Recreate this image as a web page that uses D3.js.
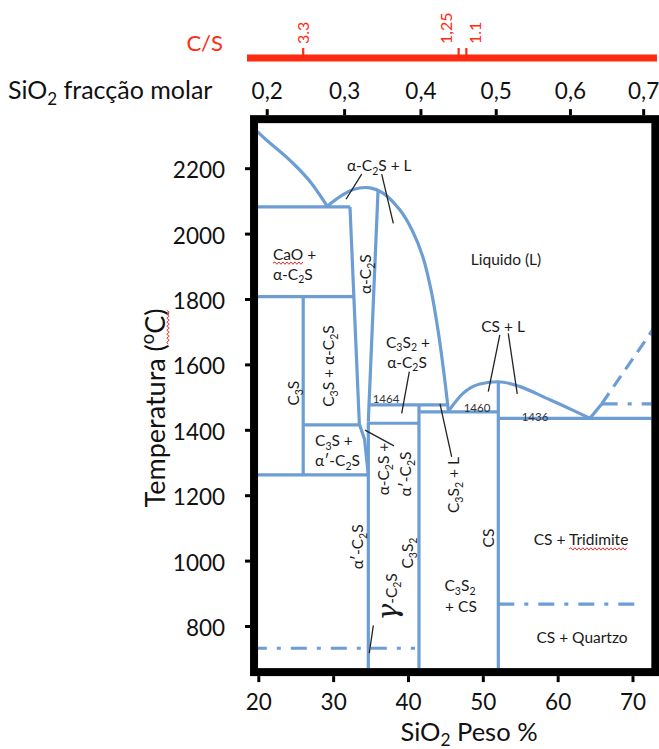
<!DOCTYPE html>
<html>
<head>
<meta charset="utf-8">
<script src="https://cdn.jsdelivr.net/npm/d3@7"></script>
<style>
body { margin: 0; background: #fff; }
text { font-family: Lato, "Open Sans", "DejaVu Sans", sans-serif; }
</style>
</head>
<body>
<svg id="chart" width="659" height="749"></svg>
<script>
// axis ticks
var wtTicks = [20, 30, 40, 50, 60, 70];
var tempTicks = [800, 1000, 1200, 1400, 1600, 1800, 2000, 2200];
var molTicks = [0.2, 0.3, 0.4, 0.5, 0.6, 0.7];
var csTicks = ["3.3", "1,25", "1.1"];
var csTickWt = [26.0, 46.77, 47.8];

// phase boundaries, [SiO2 wt%, T degC]
var limeLiquidus = [[19.9, 2312], [20.2, 2305], [24.2, 2225], [27.1, 2154], [29.2, 2084]];
var c2sLiquidus = [[29.22, 2084], [30.92, 2113], [32.69, 2135], [34.92, 2140], [36.66, 2124], [38.93, 2072],
  [40.54, 2011], [42.0, 1928], [43.08, 1828], [44.01, 1705], [44.75, 1583], [45.41, 1457]];
var csLiquidus = [[45.41, 1457], [47.39, 1512], [49.61, 1540], [52.07, 1547], [54.97, 1532],
  [58.54, 1496], [61.65, 1464], [64.32, 1435]];
var silicaLiquidus = [[64.32, 1435], [65.88, 1479]];
var silicaLiquidusDashed = [[65.88, 1479], [73.1, 1719]];
var alphaLeft = [[32.25, 2082], [33.5, 1418], [34.2, 1370], [34.7, 1262]];
var alphaRight = [[36.0, 2133], [34.7, 1425]];
var solidLines = [
  [[19.0, 2082], [32.25, 2082]],
  [[19.0, 1807], [32.73, 1807]],
  [[26.0, 1807], [26.0, 1262]],
  [[26.0, 1415], [33.5, 1415]],
  [[19.0, 1262], [34.7, 1262]],
  [[34.7, 1425], [34.7, 650]],
  [[34.7, 1420], [41.47, 1420]],
  [[34.9, 1476], [45.2, 1476]],
  [[41.47, 1476], [41.47, 650]],
  [[41.47, 1455], [52.07, 1455]],
  [[52.07, 1547], [52.07, 650]],
  [[52.07, 1435], [74, 1435]]
];
var dashDotLines = [
  [[65.88, 1479], [74, 1479]],
  [[52.07, 867], [71.23, 867]],
  [[19.0, 732], [40.94, 732]]
];
var leaders = [
  [[33.82, 2182], [31.72, 2105]],
  [[36.49, 2182], [38.04, 2031]],
  [[40.18, 1578], [39.16, 1450]],
  [[34.26, 1399], [38.13, 1351]],
  [[44.28, 1479], [45.84, 1317]],
  [[52.27, 1690], [50.73, 1517]],
  [[53.4, 1695], [54.6, 1510]],
  [[35.37, 802], [34.83, 717]]
];
var fieldLabels = [
  {t: "α-C_2S + L", w: 31.85, T: 2207, a: "start"},
  {t: "CaO +", w: 21.96, T: 1937, a: "start", sq: [0, 2]},
  {t: "α-C_2S", w: 21.96, T: 1876, a: "start"},
  {t: "α-C_2S", w: 34.39, T: 1876, rot: true},
  {t: "Liquido (L)", w: 53.1, T: 1922},
  {t: "CS + L", w: 52.7, T: 1717},
  {t: "C_3S", w: 24.77, T: 1512, rot: true},
  {t: "C_3S + α-C_2S", w: 29.45, T: 1595, rot: true},
  {t: "C_3S_2 +", w: 40.0, T: 1668},
  {t: "α-C_2S", w: 39.87, T: 1607},
  {t: "C_3S +", w: 27.58, T: 1366, a: "start"},
  {t: "α′-C_2S", w: 27.58, T: 1305, a: "start"},
  {t: "α-C_2S +", w: 36.72, T: 1280, rot: true},
  {t: "α′-C_2S", w: 39.73, T: 1265, rot: true},
  {t: "C_3S_2 + L", w: 46.15, T: 1231, rot: true},
  {t: "α′-C_2S", w: 33.32, T: 1042, rot: true},
  {t: "C_3S_2", w: 40.0, T: 1023, rot: true},
  {t: "CS", w: 50.83, T: 1069, rot: true},
  {t: "C_3S_2", w: 46.95, T: 923},
  {t: "+ CS", w: 47.08, T: 859},
  {t: "CS + Tridimite", w: 63.12, T: 1063, sq: [5, 13]},
  {t: "CS + Quartzo", w: 63.25, T: 766}
];
var tempLabels = [
  {t: "1464", w: 37.06, T: 1494},
  {t: "1460", w: 49.22, T: 1467},
  {t: "1436", w: 56.97, T: 1440}
];

var BLUE = "#6c9dd3", RED = "#ff2a12";
var LABEL = 15.5;

var svg = d3.select("#chart");
var xW = d3.scaleLinear().domain([20, 70]).range([258.3, 632.5]);
var yT = d3.scaleLinear().domain([800, 2200]).range([626, 168.2]);
var frameWt = [19.43, 73.05], frameT = [659, 2350];

function molToWt(m) {
  var s = m * 60.08, c = (1 - m) * 56.08;
  return 100 * s / (s + c);
}
var molScale = d3.scaleLinear().domain(molTicks).range(molTicks.map(function(m) { return xW(molToWt(m)); }));

// text with _x subscripts and ^x superscripts
function richText(sel, str, size, sub) {
  var parts = str.split(/([_^].)/).filter(function(p) { return p.length; });
  var shift = 0;
  parts.forEach(function(p) {
    var t = sel.append("tspan"), target = 0, txt = p, fs = null;
    if (p[0] === "_") { target = size * (sub || 0.25); txt = p[1]; fs = size * 0.68; }
    else if (p[0] === "^") { target = -size * 0.4; txt = p[1]; fs = size * 0.68; }
    t.attr("dy", target - shift).text(txt);
    if (fs) t.attr("font-size", fs);
    shift = target;
  });
  return sel;
}

function squiggle(g, textNode, i0, i1) {
  var a = textNode.getStartPositionOfChar(i0), b = textNode.getEndPositionOfChar(i1);
  var y = textNode.getStartPositionOfChar(i1).y + 3.5, d = "M" + a.x + "," + y, up = true;
  for (var x = a.x + 2; x <= b.x; x += 2) { d += "L" + x + "," + (y + (up ? -1.2 : 1.2)); up = !up; }
  g.append("path").attr("d", d).attr("fill", "none").attr("stroke", "#e8332a").attr("stroke-width", 1);
}

var fx0 = xW(frameWt[0]), fx1 = xW(frameWt[1]), fy0 = yT(frameT[1]), fy1 = yT(frameT[0]);

svg.append("clipPath").attr("id", "plotclip").append("rect")
  .attr("x", fx0 + 4).attr("y", fy0 + 4).attr("width", fx1 - fx0 - 8).attr("height", fy1 - fy0 - 8);

var plot = svg.append("g").attr("clip-path", "url(#plotclip)");
var line = d3.line().x(function(d) { return xW(d[0]); }).y(function(d) { return yT(d[1]); });
var curve = d3.line().curve(d3.curveMonotoneX).x(function(d) { return xW(d[0]); }).y(function(d) { return yT(d[1]); });
var smooth = d3.line().curve(d3.curveCatmullRom.alpha(0.5)).x(function(d) { return xW(d[0]); }).y(function(d) { return yT(d[1]); });

function blue(path) {
  return path.attr("fill", "none").attr("stroke", BLUE).attr("stroke-width", 3.2).attr("stroke-linejoin", "round");
}

solidLines.forEach(function(l) { blue(plot.append("path").attr("d", line(l))); });
blue(plot.append("path").attr("d", curve(limeLiquidus)));
blue(plot.append("path").attr("d", smooth(c2sLiquidus)));
blue(plot.append("path").attr("d", curve(csLiquidus)));
blue(plot.append("path").attr("d", line(alphaLeft)));
blue(plot.append("path").attr("d", line(alphaRight)));
blue(plot.append("path").attr("d", line(silicaLiquidus)));
blue(plot.append("path").attr("d", line(silicaLiquidusDashed))).attr("stroke-dasharray", "13,8");
dashDotLines.forEach(function(l) {
  blue(plot.append("path").attr("d", line(l))).attr("stroke-dasharray", "16,10,4,10");
});

leaders.forEach(function(l) {
  plot.append("path").attr("d", line(l)).attr("stroke", "#222").attr("stroke-width", 1.3).attr("fill", "none");
});

// field labels
fieldLabels.forEach(function(f) {
  var g = plot.append("g").attr("transform", "translate(" + xW(f.w) + "," + yT(f.T) + ")" + (f.rot ? " rotate(-90)" : ""));
  var t = g.append("text").attr("y", LABEL * 0.35).attr("font-size", LABEL).attr("fill", "#1a1a1a")
    .attr("text-anchor", f.a || "middle");
  richText(t, f.t, LABEL);
  if (f.sq) squiggle(g, t.node(), f.sq[0], f.sq[1]);
});
tempLabels.forEach(function(f) {
  plot.append("text").attr("x", xW(f.w)).attr("y", yT(f.T) + 4).attr("font-size", 11.5)
    .attr("fill", "#333").attr("text-anchor", "middle").text(f.t);
});

// gamma C2S label
var gg = plot.append("g").attr("transform", "translate(" + xW(37.73) + "," + yT(889) + ") rotate(-90)");
var gt = gg.append("text").attr("y", 6).attr("text-anchor", "middle").attr("font-size", LABEL).attr("fill", "#1a1a1a");
gt.append("tspan").attr("font-size", 28).attr("font-style", "italic").attr("font-family", "'DejaVu Serif', serif").text("γ");
richText(gt, "-C_2S", LABEL);

// frame
svg.append("rect").attr("x", fx0).attr("y", fy0).attr("width", fx1 - fx0).attr("height", fy1 - fy0)
  .attr("fill", "none").attr("stroke", "#000").attr("stroke-width", 8);

function styleAxis(g) {
  g.select(".domain").remove();
  g.selectAll(".tick line").attr("stroke", "#000").attr("stroke-width", 3);
  g.selectAll(".tick text").attr("font-size", 22.5).attr("fill", "#111").attr("font-family", null);
}

svg.append("g").attr("transform", "translate(0," + (fy1 + 4) + ")")
  .call(d3.axisBottom(xW).tickValues(wtTicks).tickSize(6).tickSizeOuter(0).tickFormat(d3.format("d")))
  .call(styleAxis)
  .call(function(g) { g.selectAll(".tick text").attr("dy", 0).attr("y", 34); });

svg.append("g").attr("transform", "translate(" + (fx0 - 4) + ",0)")
  .call(d3.axisLeft(yT).tickValues(tempTicks).tickSize(5).tickSizeOuter(0).tickFormat(d3.format("d")))
  .call(styleAxis)
  .call(function(g) { g.selectAll(".tick text").attr("dy", 0).attr("y", 9.5).attr("x", -25); });

svg.append("g").attr("transform", "translate(0," + (fy0 - 4) + ")")
  .call(d3.axisTop(molScale).tickValues(molTicks).tickSize(6).tickSizeOuter(0)
    .tickFormat(function(d) { return d3.format(".1f")(d).replace(".", ","); }))
  .call(styleAxis)
  .call(function(g) { g.selectAll(".tick text").attr("dy", 0).attr("y", -16); });

// C/S axis
var csY = 58;
svg.append("line").attr("x1", xW(18.49)).attr("x2", xW(73.27)).attr("y1", csY).attr("y2", csY)
  .attr("stroke", RED).attr("stroke-width", 7);
var csShift = [0, -12, 9];
csTicks.forEach(function(lab, i) {
  var x = xW(csTickWt[i]);
  svg.append("line").attr("x1", x).attr("x2", x).attr("y1", csY - 3).attr("y2", csY - 10)
    .attr("stroke", RED).attr("stroke-width", 2.2);
  svg.append("text").attr("transform", "translate(" + (x + csShift[i]) + ",44) rotate(-90)")
    .attr("y", 5.5).attr("font-size", 16).attr("fill", RED).text(lab);
});
svg.append("text").attr("x", 223).attr("y", 51).attr("text-anchor", "end")
  .attr("font-size", 22).attr("fill", RED).text("C/S");

// axis titles
richText(svg.append("text").attr("x", 8).attr("y", 99).attr("font-size", 25).attr("fill", "#111"),
  "SiO_2 fracção molar", 25);
richText(svg.append("text").attr("x", 469).attr("y", 741).attr("text-anchor", "middle")
  .attr("font-size", 25.5).attr("fill", "#111"), "SiO_2 Peso %", 25.5, 0.2);
var tg = svg.append("g").attr("transform", "translate(155,408) rotate(-90)");
var tt = tg.append("text").attr("y", 9.5).attr("text-anchor", "middle").attr("font-size", 27).attr("fill", "#111");
richText(tt, "Temperatura (^oC)", 27);
squiggle(tg, tt.node(), 13, 15);
</script>
</body>
</html>
